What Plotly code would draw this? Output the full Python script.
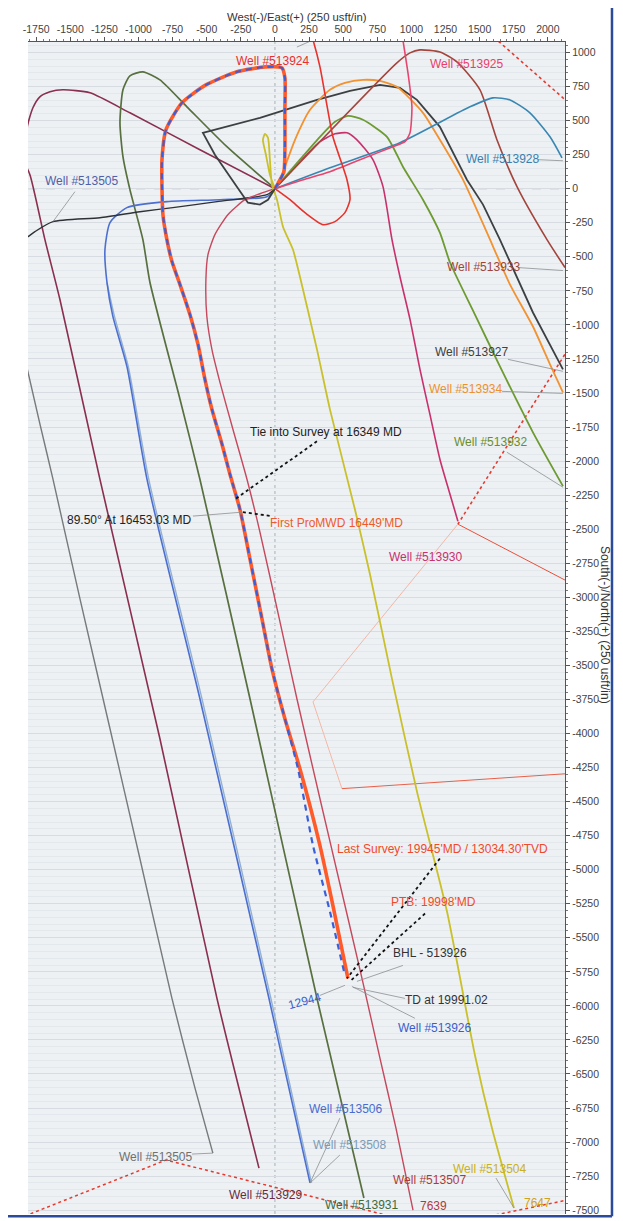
import plotly.graph_objects as go

# ---------------- axis ticks ----------------
x_ticks = list(range(-1750, 2001, 250))
y_ticks = list(range(1000, -7501, -250))

# ---------------- wells (East, North in usft) ----------------
actual_e = [0, 29, 66, 73, 73, 73, 51, -73, -279, -506, -682, -799, -828, -828, -821, -792, -755, -696, -623, -564, -513, -462, -388, -330, -257, -183, -95, -22, 73, 183, 330, 425, 535]
actual_n = [0, 51, 125, 286, 579, 814, 887, 894, 858, 762, 630, 432, 213, 15, -191, -374, -535, -704, -924, -1143, -1400, -1620, -1876, -2096, -2353, -2719, -3159, -3526, -3892, -4259, -4823, -5263, -5798]

plan_e = [0, 29, 66, 73, 73, 73, 51, -73, -279, -506, -682, -799, -828, -828, -821, -792, -755, -696, -623, -564, -513, -462, -388, -330, -257, -183, -95, -22, 73, 169, 279, 403, 513]
plan_n = [0, 51, 125, 286, 579, 814, 887, 894, 858, 762, 630, 432, 213, 15, -191, -374, -535, -704, -924, -1143, -1400, -1620, -1876, -2096, -2353, -2719, -3159, -3526, -3892, -4259, -4823, -5307, -5776]

w513924_e = [0, 110, 220, 352, 440, 513, 550, 528, 425, 374, 330, 279, 249]
w513924_n = [0, -81, -176, -264, -242, -176, -81, 66, 381, 652, 894, 1092, 1180]

w513925_e = [0, 183, 403, 623, 865, 953, 990, 1004, 975, 938, 924]
w513925_n = [0, 59, 125, 213, 308, 345, 411, 601, 850, 1092, 1180]

w513928_e = [0, 403, 916, 1429, 1598, 1723, 1869, 2016, 2104]
w513928_n = [0, 154, 337, 601, 667, 652, 557, 381, 227]

w513933_e = [0, 894, 990, 1063, 1209, 1334, 1503, 1627, 1774, 1994, 2126]
w513933_n = [0, 924, 997, 1019, 1004, 931, 726, 359, 15, -374, -579]

w513934_e = [0, 37, 147, 257, 403, 513, 645, 770, 894, 1085, 1209, 1378, 1554, 1723, 1891, 2016, 2111]
w513934_n = [0, 66, 359, 579, 726, 777, 799, 791, 748, 557, 359, 66, -323, -704, -1012, -1290, -1495]

w513927_e = [0, -51, -110, -198, -279, -440, -528, -110, 308, 550, 770, 916, 1041, 1209, 1407, 1525, 1649, 1891, 2111]
w513927_n = [0, -81, -117, -103, 15, 249, 410, 520, 652, 718, 762, 740, 652, 454, 66, -117, -374, -909, -1327]

w513932_e = [0, 183, 330, 440, 535, 645, 821, 938, 1085, 1209, 1283, 1466, 1649, 1891, 2111]
w513932_n = [0, 213, 381, 491, 535, 506, 381, 161, -81, -323, -542, -924, -1305, -1789, -2184]

w513930_e = [0, 183, 330, 440, 528, 601, 718, 792, 858, 916, 990, 1063, 1136, 1209, 1283, 1341]
w513930_n = [0, 198, 345, 403, 410, 359, 213, 15, -374, -645, -960, -1327, -1657, -1986, -2243, -2441]

w513929_e = [0, -550, -1063, -1356, -1554, -1649, -1723, -1774, -1803, -1825, -1869, -1884, -1840, -1796, -1686, -1576, -1283, -843, -425, -117]
w513929_n = [0, 286, 557, 704, 726, 711, 674, 594, 506, 418, 323, 249, 191, 103, -374, -814, -2133, -4039, -5945, -7191]

w513931_e = [0, -352, -645, -843, -968, -1063, -1114, -1136, -1114, -1063, -968, -916, -696, -550, -183, 308, 652]
w513931_n = [0, 308, 601, 799, 858, 828, 726, 484, 235, -7, -374, -689, -1546, -2133, -3745, -5944, -7411]

w513506_e = [0, -59, -403, -792, -1085, -1209, -1246, -1231, -1188, -1085, -938, -550, -44, 257]
w513506_n = [0, -59, -81, -95, -139, -249, -447, -689, -938, -1305, -2133, -3745, -5944, -7300]

w513508_e = [-1231, -1176, -1075, -925, -535, -30, 268]
w513508_n = [-689, -938, -1305, -2133, -3745, -5944, -7300]

w513505a_e = [0, -59, -425, -748, -990, -1283, -1627, -1759, -1810, -1906]
w513505a_n = [0, -44, -95, -139, -169, -213, -242, -315, -352, -410]

w513505b_e = [-1840, -1722, -1627, -1429, -1209, -990, -755, -586, -455]
w513505b_n = [-1217, -1730, -2133, -3012, -3965, -4918, -5945, -6604, -7081]

w513507_e = [0, -110, -220, -345, -440, -491, -506, -499, -462, -403, -308, -205, -110, 37, 161, 330, 484, 638, 770, 887, 1012]
w513507_n = [0, -37, -81, -191, -337, -484, -667, -938, -1180, -1422, -1766, -2133, -2521, -3181, -3745, -4479, -5138, -5798, -6385, -6898, -7499]

w513504_e = [0, -37, -66, -88, -73, -51, -37, -22, 15, 59, 132, 183, 308, 403, 586, 696, 858, 1041, 1261, 1466, 1591, 1752]
w513504_n = [0, 103, 249, 359, 403, 374, 213, 29, -81, -279, -447, -645, -1180, -1620, -2353, -2829, -3599, -4427, -5307, -6362, -6898, -7484]

# ---------------- lease / hard lines ----------------
lease1_e = [1503, 1627, 2111, 2199]
lease1_n = [1195, 1092, 667, 594]
lease2_e = [2148, 1341]
lease2_n = [-1180, -2463]
lease3_e = [1341, 2140]
lease3_n = [-2463, -2881]
lease4_e = [1341, 279, 491]
lease4_n = [-2463, -3768, -4405]
lease5_e = [491, 2140]
lease5_n = [-4405, -4295]
lease6_e = [-1833, -799, 990]
lease6_n = [-7543, -7132, -7580]
lease7_e = [1576, 2160]
lease7_n = [-7543, -7422]

fig = go.Figure()


def add_line(e, n, color, width=1.6, dash='solid', shape='spline', smooth=0.6):
    line = dict(color=color, width=width, dash=dash, shape=shape)
    if shape == 'spline':
        line['smoothing'] = smooth
    fig.add_trace(go.Scatter(x=e, y=n, mode='lines', line=line,
                             hoverinfo='skip', showlegend=False))


# lease lines
LR = '#e8392f'
add_line(lease1_e, lease1_n, LR, 1.6, 'dot', 'linear')
add_line(lease2_e, lease2_n, LR, 1.6, 'dot', 'linear')
add_line(lease3_e, lease3_n, '#e8503a', 1.0, 'solid', 'linear')
add_line(lease4_e, lease4_n, '#f2b8a8', 1.0, 'solid', 'linear')
add_line(lease5_e, lease5_n, '#e8604a', 1.0, 'solid', 'linear')
add_line(lease6_e, lease6_n, LR, 1.5, 'dot', 'linear')
add_line(lease7_e, lease7_n, LR, 1.5, 'dot', 'linear')

# offset wells
add_line(w513505b_e, w513505b_n, '#77797a', 1.4)
add_line(w513929_e, w513929_n, '#8a2f4e', 1.6)
add_line(w513931_e, w513931_n, '#58703f', 1.7)
add_line(w513508_e, w513508_n, '#93b2d2', 1.4)
add_line(w513506_e, w513506_n, '#4d6fd0', 1.6)
add_line(w513505a_e, w513505a_n, '#2e3236', 1.4)
add_line(w513507_e, w513507_n, '#c5485c', 1.4)
add_line(w513504_e, w513504_n, '#c9c02c', 1.8)
add_line(w513930_e, w513930_n, '#c8306e', 1.6)
add_line(w513932_e, w513932_n, '#6e9a32', 1.8)
add_line(w513927_e, w513927_n, '#3d4043', 1.8, shape='linear')
add_line(w513934_e, w513934_n, '#f29230', 1.8)
add_line(w513933_e, w513933_n, '#a3453c', 1.6)
add_line(w513928_e, w513928_n, '#3a86b2', 1.6)
add_line(w513925_e, w513925_n, '#e8456e', 1.6)
add_line(w513924_e, w513924_n, '#e8322c', 1.6)

# subject well
add_line(actual_e, actual_n, '#ff5a2a', 3.6)
add_line(plan_e, plan_n, '#3a5fd8', 2.2, dash='6px,5px')

# ---------------- leader lines ----------------
leaders_gray = [
    ([161, 279], [1040, 1092]),
    ([1928, 2111], [213, 205]),
    ([1781, 2111], [-579, -601]),
    ([1708, 2111], [-1253, -1341]),
    ([1664, 2111], [-1488, -1503]),
    ([1700, 2111], [-1935, -2192]),
    ([-1466, -1627], [-22, -242]),
    ([-601, -242], [-2404, -2375]),
    ([938, 601], [-5703, -5820]),
    ([953, 572], [-5945, -5864]),
    ([1026, 564], [-6091, -5857]),
    ([330, 513], [-5923, -5849]),
    ([476, 257], [-6824, -7301]),
    ([476, 257], [-7095, -7301]),
    ([-608, -455], [-7088, -7081]),
    ([1620, 1752], [-7264, -7484]),
]
for e, n in leaders_gray:
    add_line(e, n, '#8c8f92', 0.8, 'solid', 'linear')

leaders_dot = [
    ([308, -293], [-1855, -2280]),
    ([-235, -22], [-2375, -2404]),
    ([1209, 528], [-4918, -5798]),
    ([1100, 550], [-5322, -5820]),
]
for e, n in leaders_dot:
    add_line(e, n, '#111111', 1.8, 'dot', 'linear')

# ---------------- labels ----------------
labels = [
    ("Well #513924", -15, 938, '#e8302a', 0),
    ("Well #513925", 1407, 916, '#e8406a', 0),
    ("Well #513928", 1671, 220, '#3a7fae', 0),
    ("Well #513933", 1525, -572, '#a04438', 0),
    ("Well #513927", 1444, -1202, '#404040', 0),
    ("Well #513934", 1400, -1473, '#f0902a', 0),
    ("Well #513932", 1583, -1862, '#6b8e2a', 0),
    ("Well #513930", 1107, -2705, '#c8306e', 0),
    ("Well #513505", -1415, 59, '#5060a8', 0),
    ("Tie into Survey at 16349 MD", 374, -1789, '#222222', 0),
    ("89.50° At 16453.03 MD", -1063, -2434, '#222222', 0),
    ("First ProMWD 16449'MD", 454, -2456, '#f05a28', 0),
    ("Last Survey: 19945'MD / 13034.30'TVD", 1231, -4845, '#f04a28', 0),
    ("PTB: 19998'MD", 1165, -5234, '#f04a28', 0),
    ("BHL - 513926", 1136, -5615, '#333333', 0),
    ("TD at 19991.02", 1261, -5959, '#333333', 0),
    ("Well #513926", 1173, -6165, '#3a5fcd', 0),
    ("12944", 220, -5967, '#3a5fcd', -15),
    ("Well #513506", 520, -6758, '#4a6ad0', 0),
    ("Well #513508", 550, -7022, '#7d9ab5', 0),
    ("Well #513505", -872, -7110, '#707070', 0),
    ("Well #513929", -66, -7389, '#6a2a40', 0),
    ("Well #513931", 638, -7462, '#3d6b3d', 0),
    ("Well #513507", 1136, -7279, '#b03a3a', 0),
    ("7639", 1165, -7470, '#b03a3a', 0),
    ("Well #513504", 1576, -7198, '#c8b020', 0),
    ("7647", 1928, -7450, '#d0a020', 0),
]
for txt, e, n, col, ang in labels:
    fig.add_annotation(x=e, y=n, text=txt, showarrow=False, textangle=ang,
                       font=dict(family='Liberation Sans, Arial', size=12, color=col),
                       xanchor='center', yanchor='middle')

# axis titles
fig.add_annotation(xref='paper', yref='paper', x=0.501, y=1.0281,
                   xanchor='center', yanchor='top',
                   text='West(-)/East(+) (250 usft/in)', showarrow=False,
                   font=dict(family='Liberation Sans, Arial', size=11.3, color='#333333'))
fig.add_annotation(xref='paper', yref='paper', x=1.0745, y=0.5026, textangle=90,
                   xanchor='center', yanchor='middle',
                   text='South(-)/North(+) (250 usft/in)', showarrow=False,
                   font=dict(family='Liberation Sans, Arial', size=12, color='#333333'))

# reference lines at 0
fig.add_shape(type='line', xref='x', yref='paper', x0=0, x1=0, y0=0, y1=1,
              line=dict(color='#a8b0b6', width=1, dash='dot'), layer='below')
fig.add_shape(type='line', xref='paper', yref='y', x0=0, x1=1, y0=0, y1=0,
              line=dict(color='#9aa2a8', width=1, dash='dash'), layer='below')

# blue frame
fig.add_shape(type='line', xref='paper', yref='paper', x0=1.0875, x1=1.0875, y0=-0.002, y1=1.04,
              line=dict(color='#2c4a9a', width=2.5))
fig.add_shape(type='line', xref='paper', yref='paper', x0=-0.05, x1=1.0875, y0=-0.002, y1=-0.002,
              line=dict(color='#2c4a9a', width=2.5))

tickfont = dict(family='Liberation Sans, Arial', size=10.5, color='#444444')
# page body has an 8px margin, so the figure is sized/offset to compensate
fig.update_layout(
    width=615, height=1213,
    margin=dict(l=20, r=58, t=34, b=5),
    paper_bgcolor='white', plot_bgcolor='#edf1f4',
    xaxis=dict(range=[-1810, 2126], side='top', tickvals=x_ticks,
               ticktext=[str(v) for v in x_ticks], ticks='outside', ticklen=4,
               tickcolor='#555555', showline=True, linecolor='#555555', linewidth=1.2,
               showgrid=False, zeroline=False, tickfont=tickfont,
               minor=dict(dtick=50, ticks='outside', ticklen=2, tickcolor='#777777', showgrid=False)),
    yaxis=dict(range=[-7528, 1077], side='right', tickvals=y_ticks,
               ticktext=[str(v) for v in y_ticks], ticks='outside', ticklen=4,
               tickcolor='#555555', showline=True, linecolor='#555555', linewidth=1.2,
               showgrid=True, gridcolor='#d6dce1', gridwidth=1, zeroline=False,
               tickfont=tickfont,
               minor=dict(dtick=50, ticks='outside', ticklen=2, tickcolor='#777777',
                          showgrid=True, gridcolor='#e3e8ec', gridwidth=0.6)),
)

fig.write_html("out.html")
